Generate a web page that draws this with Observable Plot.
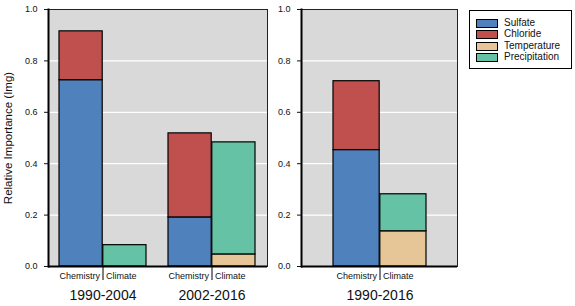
<!DOCTYPE html>
<html>
<head>
<meta charset="utf-8">
<script src="https://cdn.jsdelivr.net/npm/d3@7"></script>
<script src="https://cdn.jsdelivr.net/npm/@observablehq/plot@0.6"></script>
<style>
  html, body { margin: 0; padding: 0; background: #fff; }
  #wrap { position: relative; width: 575px; height: 306px; font-family: "Liberation Sans", Arial, sans-serif; }
  #left, #right { position: absolute; top: 0; }
  #left { left: 0; }
  #right { left: 275px; }
  #legend { position: absolute; left: 469px; top: 10px; width: 101px; height: 57px; border: 1px solid #000; background: #fff; box-sizing: content-box; }
  .li { position: absolute; left: 6px; height: 11px; font-size: 10px; line-height: 11px; color: #111; }
  .sw { position: absolute; left: 0; top: 2px; width: 20px; height: 7px; border: 1px solid #000; }
  .lt { position: absolute; left: 28px; top: 0; white-space: nowrap; }
</style>
</head>
<body>
<div id="wrap">
  <div id="left"></div>
  <div id="right"></div>
  <div id="legend"></div>
</div>
<script>
// ---- data ----
const periods = ["1990-2004", "2002-2016", "1990-2016"];
const groups = ["Chemistry", "Climate"];
const components = ["Sulfate", "Chloride", "Temperature", "Precipitation"];
const componentGroup = ["Chemistry", "Chemistry", "Climate", "Climate"];
const sulfate = [0.725, 0.191, 0.453];
const chloride = [0.190, 0.327, 0.268];
const temperature = [0.0, 0.047, 0.137];
const precipitation = [0.083, 0.436, 0.144];
const yTicks = [0, 0.2, 0.4, 0.6, 0.8, 1.0];
const yLabel = "Relative Importance (Img)";

const colors = ["#4f81bd", "#c0504d", "#e6c596", "#66c2a5"];
const seriesValues = [sulfate, chloride, temperature, precipitation];

const rows = [];
periods.forEach((p, i) => {
  components.forEach((c, k) => {
    rows.push({period: p, group: componentGroup[k], component: c, value: seriesValues[k][i]});
  });
});

const font = '"Liberation Sans", Arial, sans-serif';

function panel(ps, opts) {
  const {width, marginLeft, marginRight, plotW, paddingInner, paddingOuter} = opts;
  const n = ps.length;
  const step = plotW / (n - paddingInner + 2 * paddingOuter);
  const bw = step * (1 - paddingInner);
  const half = bw / 2;
  const data = rows.filter(d => ps.includes(d.period) && d.value > 0);
  const plotH = 306 - 9 - 40;
  const marks = [
    Plot.frame({fill: "#d9d9d9", stroke: null}),
    Plot.gridY(yTicks.filter(v => v > 0 && v < 1), {stroke: "#fff", strokeOpacity: 1, strokeWidth: 1.2}),
    Plot.barY(data.filter(d => d.group === "Chemistry"),
      Plot.stackY({x: "period", y: "value", fill: "component", stroke: "#000", strokeWidth: 1.2, insetRight: half})),
    Plot.barY(data.filter(d => d.group === "Climate"),
      Plot.stackY({x: "period", y: "value", fill: "component", stroke: "#000", strokeWidth: 1.2, insetLeft: half})),
    Plot.frame({stroke: "#222", strokeWidth: 1}),
    Plot.ruleY([0], {stroke: "#000", strokeWidth: 2}),
    Plot.frame({anchor: "left", stroke: "#000", strokeWidth: 2}),
    Plot.axisY(yTicks, {tickSize: 4, tickPadding: 7, tickFormat: d3.format(".1f"), fontSize: 9, label: null}),
    Plot.ruleX(ps, {x: d => d, insetTop: plotH, insetBottom: -14, stroke: "#000", strokeWidth: 1}),
    Plot.text(ps, {x: d => d, y: d => 0, text: () => groups[0], textAnchor: "end", dx: -3, dy: 10, fontSize: 9, fill: "#111"}),
    Plot.text(ps, {x: d => d, y: d => 0, text: () => groups[1], textAnchor: "start", dx: 3, dy: 10, fontSize: 9, fill: "#111"}),
    Plot.text(ps, {x: d => d, y: d => 0, text: d => d, dy: 29, fontSize: 14, fill: "#111"})
  ];
  if (opts.showLabel) {
    marks.push(Plot.text([yLabel], {text: d => d, frameAnchor: "left", textAnchor: "middle", rotate: -90, dx: -40, dy: 0, fontSize: 11.5, fill: "#111"}));
  }
  return Plot.plot({
    width, height: 306,
    marginLeft, marginRight, marginTop: 9, marginBottom: 40,
    style: {fontFamily: font, fontSize: "9px", color: "#111", background: "transparent", overflow: "visible"},
    x: {domain: ps, paddingInner, paddingOuter, axis: null},
    y: {domain: [0, 1], axis: null},
    color: {domain: components, range: colors},
    marks
  });
}

const leftPlot = panel(periods.slice(0, 2), {width: 275, marginLeft: 48, marginRight: 8, plotW: 219, paddingInner: 0.2, paddingOuter: 0.1, showLabel: true});
const rightPlot = panel(periods.slice(2), {width: 300, marginLeft: 26, marginRight: 118, plotW: 156, paddingInner: 0, paddingOuter: 0.333, showLabel: false});
document.getElementById("left").appendChild(leftPlot);
document.getElementById("right").appendChild(rightPlot);

const legend = document.getElementById("legend");
components.forEach((c, k) => {
  const item = document.createElement("div");
  item.className = "li";
  item.style.top = (6 + k * 11.4) + "px";
  item.innerHTML = `<span class="sw" style="background:${colors[k]}"></span><span class="lt">${c}</span>`;
  legend.appendChild(item);
});
</script>
</body>
</html>
